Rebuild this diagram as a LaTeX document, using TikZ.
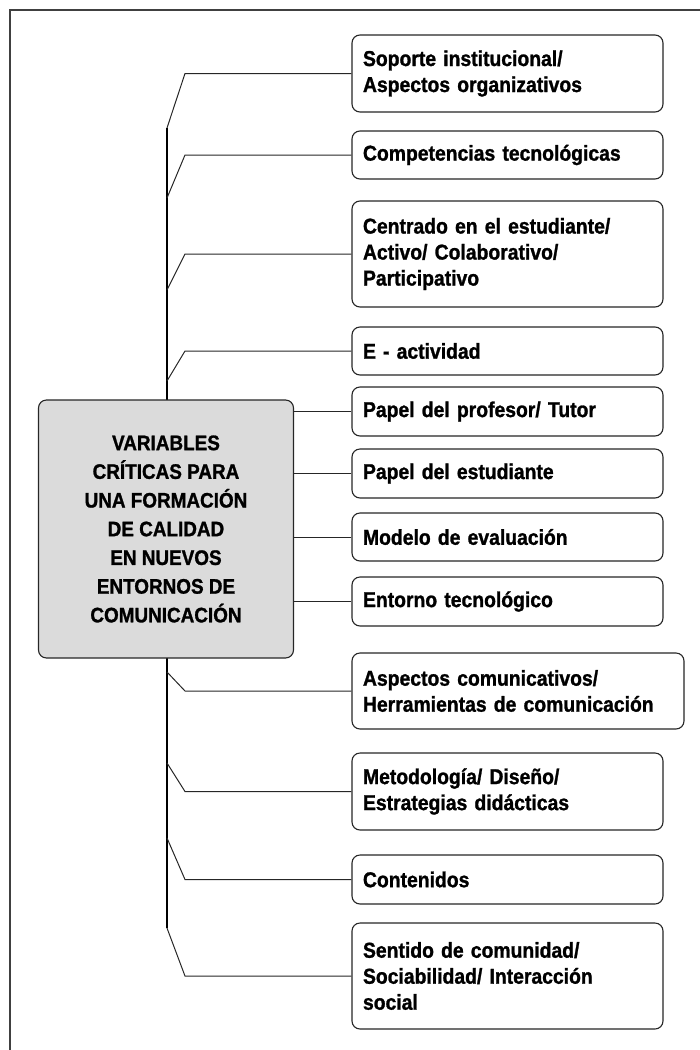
\documentclass[tikz,border=0pt]{standalone}
\usepackage{fontspec}
\setmainfont{Liberation Sans}
\newfontfamily\narrowfont{Liberation Sans}[FakeStretch=0.9,FakeBold=1.2]
\begin{document}
\begin{tikzpicture}[x=1pt,y=-1pt,
  box/.style={draw=black!85,line width=1.1pt,rounded corners=8pt,fill=white,
    text width=289pt,inner xsep=11pt,inner ysep=0pt,align=left,
    font=\narrowfont\fontsize{21.5}{26}\selectfont\bfseries},
  widebox/.style={box,text width=310pt},
  central/.style={draw=black!85,line width=1.1pt,rounded corners=8pt,fill=black!14,
    minimum width=255pt,minimum height=258pt,align=center,inner sep=0pt,
    font=\narrowfont\fontsize{21}{28.7}\selectfont\bfseries},
  conn/.style={draw=black!85,line width=1pt},
  trunk/.style={draw=black,line width=1.4pt},
  frame/.style={draw=black!75,line width=1.3pt}]
\useasboundingbox (0,0) rectangle (700,1050);
\draw[frame] (10,1050) -- (10,10) -- (700,10);

% trunk coordinates
\coordinate (t1) at (167,128);
\coordinate (t2) at (167,198);
\coordinate (t3) at (167,290);
\coordinate (t4) at (167,381);
\coordinate (t9) at (167,672);
\coordinate (t10) at (167,763);
\coordinate (t11) at (167,838);
\coordinate (t12) at (167,928);
\draw[trunk] (t1) -- (t12);

\node[central] (c) at (166,529) {VARIABLES\\CRÍTICAS PARA\\UNA FORMACIÓN\\DE CALIDAD\\EN NUEVOS\\ENTORNOS DE\\COMUNICACIÓN};

\node[box,minimum height=77pt] (b1) at (507.5,73.5) {Soporte institucional/\\Aspectos organizativos};
\node[box,minimum height=48pt] (b2) at (507.5,155) {Competencias tecnológicas};
\node[box,minimum height=106pt] (b3) at (507.5,254) {Centrado en el estudiante/\\Activo/ Colaborativo/\\Participativo};
\node[box,minimum height=48pt] (b4) at (507.5,351) {E - actividad};
\node[box,minimum height=49pt] (b5) at (507.5,411.5) {Papel del profesor/ Tutor};
\node[box,minimum height=49pt] (b6) at (507.5,473.5) {Papel del estudiante};
\node[box,minimum height=48pt] (b7) at (507.5,537) {Modelo de evaluación};
\node[box,minimum height=49pt] (b8) at (507.5,601.5) {Entorno tecnológico};
\node[widebox,minimum height=76pt] (b9) at (518,691) {Aspectos comunicativos/\\Herramientas de comunicación};
\node[box,minimum height=77pt] (b10) at (507.5,791.5) {Metodología/ Diseño/\\Estrategias didácticas};
\node[box,minimum height=49pt] (b11) at (507.5,879.5) {Contenidos};
\node[box,minimum height=106pt] (b12) at (507.5,976) {Sentido de comunidad/\\Sociabilidad/ Interacción\\social};

\draw[conn] (b1.west) -- (185,73.5) -- (t1);
\draw[conn] (b2.west) -- (185,155) -- (t2);
\draw[conn] (b3.west) -- (185,254) -- (t3);
\draw[conn] (b4.west) -- (185,351) -- (t4);
\draw[conn] (b5.west) -- (b5.west -| c.east);
\draw[conn] (b6.west) -- (b6.west -| c.east);
\draw[conn] (b7.west) -- (b7.west -| c.east);
\draw[conn] (b8.west) -- (b8.west -| c.east);
\draw[conn] (b9.west) -- (185,691) -- (t9);
\draw[conn] (b10.west) -- (185,791.5) -- (t10);
\draw[conn] (b11.west) -- (185,879.5) -- (t11);
\draw[conn] (b12.west) -- (185,976) -- (t12);
\end{tikzpicture}
\end{document}
